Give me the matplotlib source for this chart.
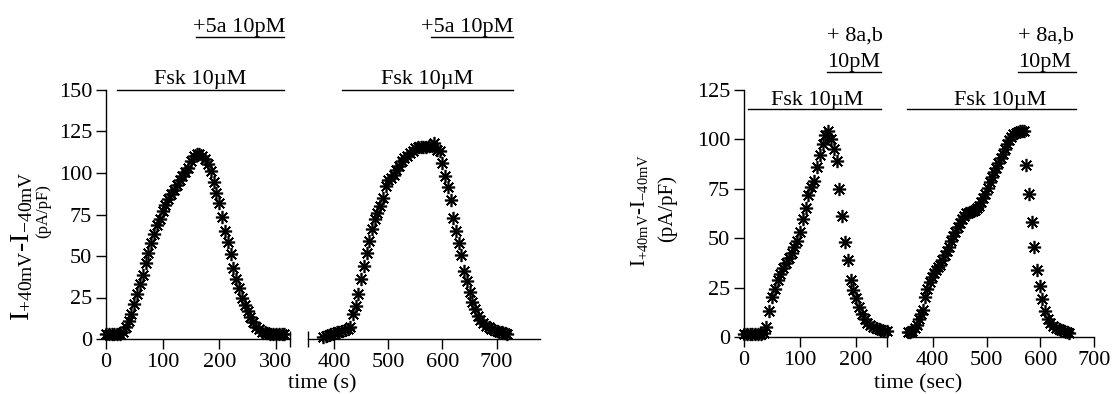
import matplotlib
matplotlib.use("Agg")
import matplotlib.pyplot as plt

plt.rcParams['font.family'] = ['Liberation Serif', 'DejaVu Serif']
plt.rcParams['mathtext.fontset'] = 'custom'
plt.rcParams['mathtext.rm'] = 'Liberation Serif'
plt.rcParams['mathtext.it'] = 'Liberation Serif:italic'

# ---- data ----
# left panel, first recording (5a)
t1 = [0, 5, 10, 15, 20, 25, 30, 35, 40, 45, 50, 55, 60, 65, 70, 75, 80, 85, 90, 95,
      100, 105, 110, 115, 120, 125, 130, 135, 140, 145, 150, 155, 160, 165, 170, 175,
      180, 185, 190, 195, 200, 205, 210, 215, 220, 225, 230, 235, 240, 245, 250, 255,
      260, 265, 270, 275, 280, 285, 290, 295, 300, 305, 310, 315]
v1 = [3, 3, 3, 3, 3, 3, 4, 7, 11, 15, 21, 27, 33, 38.5, 45.5, 52, 58, 63, 68.5, 72.5,
      77, 81, 84.5, 87.5, 90, 93, 95.5, 98, 100.5, 103, 107, 110, 111.5, 111.5, 110.5, 108.5,
      105.5, 101, 94.5, 88, 82, 73.5, 65, 58.5, 51, 42.5, 36, 31, 25, 20.5, 17, 13,
      10, 7.5, 6, 4.5, 4, 3.5, 3, 3, 3, 3, 3, 3]

# left panel, second recording (5a)
t2 = [380, 385, 390, 395, 400, 405, 410, 415, 420, 425, 430, 435, 440, 445, 450, 455,
      460, 465, 470, 475, 480, 485, 490, 495, 500, 505, 510, 515, 520, 525, 530, 535,
      540, 545, 550, 555, 560, 565, 570, 575, 580, 585, 590, 595, 600, 605, 610, 615,
      620, 625, 630, 635, 640, 645, 650, 655, 660, 665, 670, 675, 680, 685, 690, 695,
      700, 705, 710, 715, 720]
v2 = [1.5, 2, 2.5, 3, 3.5, 4, 4.5, 5, 5.5, 6, 7, 15, 20, 27, 36, 44,
      52, 59, 66, 72, 76, 80, 85, 92, 95.5, 97, 99, 102, 104.5, 107, 109, 110.5,
      112, 113.5, 115, 115.5, 115.5, 115.5, 115.5, 116, 116.5, 118, 114, 113.5, 106, 98, 91.5, 84,
      73, 65, 58, 50.5, 41, 35, 28.5, 22.5, 18, 14, 11.5, 9.5, 8, 7, 6, 5.5,
      5, 4.5, 4, 3.5, 3]

# right panel, first recording (8a,b)
t3 = [0, 5, 10, 15, 20, 25, 30, 35, 40, 45, 50, 55, 60, 65, 70, 75, 80, 85, 90, 95,
      100, 105, 110, 115, 120, 125, 130, 135, 140, 145, 150, 155, 160, 165, 170, 175,
      180, 185, 190, 195, 200, 205, 210, 215, 220, 225, 230, 235, 240, 245, 250, 255]
v3 = [1.5, 1.5, 1.5, 1.5, 1.5, 1.5, 1.5, 2, 5, 13, 20, 24.5, 29, 32, 35, 37.5, 40, 42.5, 45.5, 48.5,
      53, 59.5, 65.5, 72, 76, 79, 86, 92, 97.5, 102, 104, 100, 95, 89, 75, 61,
      48, 39, 29, 24, 19.5, 15, 11.5, 9, 7, 6, 5, 4.5, 4, 3.5, 3, 3]

# right panel, second recording (8a,b)
t4 = [354, 358, 362, 366, 370, 374, 378, 382, 386, 390, 394, 398, 402, 406, 410, 414,
      418, 422, 426, 430, 434, 438, 442, 446, 450, 454, 458, 462, 466, 470, 474, 478,
      482, 486, 490, 494, 498, 502, 506, 510, 514, 518, 522, 526, 530, 534, 538, 542,
      546, 550, 554, 558, 562, 566, 570, 574, 579, 584, 589, 594, 599, 604, 609, 614,
      619, 624, 629, 634, 639, 644, 649, 653]
v4 = [2.5, 2.5, 3, 4.5, 6, 9, 11.5, 13.5, 20, 24.5, 28, 30.5, 32.5, 34, 35.5, 36.5,
      39, 41.5, 43.5, 45.5, 48.5, 51, 53, 55.5, 57.5, 59.5, 61, 62.5, 63, 63.5, 64, 64.5,
      65.5, 66.5, 68.5, 70.5, 72.5, 75.5, 78.5, 81, 83.5, 85.5, 88, 90.5, 92.5, 95, 97.5, 99.5,
      101, 102.5, 103, 103.5, 104, 104, 104.5, 87, 72.5, 58, 45.5, 34, 26, 19, 13, 9,
      7, 5.5, 4.5, 4, 3.5, 3, 2.5, 2]

left_yticks = [0, 25, 50, 75, 100, 125, 150]
right_yticks = [0, 25, 50, 75, 100, 125]

W, H = 1114, 394
fig = plt.figure(figsize=(W / 100, H / 100), dpi=100)


def px_axes(x0, x1, ytop, ybot):
    return fig.add_axes([x0 / W, (H - ybot) / H, (x1 - x0) / W, (ybot - ytop) / H])


def style(ax, left_spine):
    for s in ['top', 'right']:
        ax.spines[s].set_visible(False)
    ax.spines['left'].set_visible(left_spine)
    ax.spines['bottom'].set_linewidth(1.0)
    ax.spines['left'].set_linewidth(1.0)
    ax.tick_params(direction='out', length=7, width=1.0, labelsize=16, pad=3)
    if not left_spine:
        ax.tick_params(axis='y', left=False, labelleft=False)
    ax.patch.set_alpha(0)


mk = dict(marker=(8, 2, 0), markersize=9.5, markeredgewidth=1.2, color='black',
          linestyle='none', clip_on=False, zorder=3)
bar = dict(color='black', linewidth=1.0, clip_on=False)
fs = 16

# ---------- left panel ----------
ax1 = px_axes(106, 290, 90, 339)
ax1.set_xlim(0, 325)
ax1.set_ylim(0, 150)
ax1.set_xticks([0, 100, 200, 300])
ax1.set_yticks(left_yticks)
style(ax1, True)
ax1.plot(t1, v1, **mk)
ax1.plot([1], [0], marker='|', markersize=12, color='black', transform=ax1.transAxes, clip_on=False)

ax2 = px_axes(308, 540, 90, 339)
ax2.set_xlim(352, 780)
ax2.set_ylim(0, 150)
ax2.set_xticks([400, 500, 600, 700])
style(ax2, False)
ax2.plot(t2, v2, **mk)
ax2.plot([0], [0], marker='|', markersize=12, color='black', transform=ax2.transAxes, clip_on=False)

ax1.plot([19, 315], [150, 150], **bar)
ax1.text(167, 153.5, 'Fsk 10\u00b5M', ha='center', va='baseline', fontsize=fs)
ax1.plot([159, 315], [182, 182], **bar)
ax1.text(316, 185, '+5a 10pM', ha='right', va='baseline', fontsize=fs)

ax2.plot([415, 730], [150, 150], **bar)
ax2.text(572, 153.5, 'Fsk 10\u00b5M', ha='center', va='baseline', fontsize=fs)
ax2.plot([579, 730], [182, 182], **bar)
ax2.text(731, 185, '+5a 10pM', ha='right', va='baseline', fontsize=fs)

fig.text(322 / W, 1 - 384 / H, 'time (s)', ha='center', va='center', fontsize=fs)
fig.text(22 / W, 1 - 246 / H, r'$\mathrm{I_{+40mV}}$-$\mathrm{I_{-40mV}}$',
         rotation=90, ha='center', va='center', fontsize=20)
fig.text(43 / W, 1 - 211 / H, '(pA/pF)', rotation=90, ha='center', va='center', fontsize=12)

# ---------- right panel ----------
ax3 = px_axes(744, 887, 90, 337)
ax3.set_xlim(0, 255)
ax3.set_ylim(0, 125)
ax3.set_xticks([0, 100, 200])
ax3.set_yticks(right_yticks)
style(ax3, True)
ax3.plot(t3, v3, **mk)
ax3.plot([1], [0], marker='|', markersize=14, color='black', transform=ax3.transAxes,
         clip_on=False, markeredgewidth=1.0)

ax4 = px_axes(907, 1094, 90, 337)
ax4.set_xlim(352, 700)
ax4.set_ylim(0, 125)
ax4.set_xticks([400, 500, 600, 700])
style(ax4, False)
ax4.plot(t4, v4, **mk)

ax3.plot([7, 245], [115.2, 115.2], **bar)
ax3.text(131, 117.3, 'Fsk 10\u00b5M', ha='center', va='baseline', fontsize=fs)
ax3.plot([148, 245], [134, 134], **bar)
ax3.text(148, 136.6, '10pM', ha='left', va='baseline', fontsize=fs)
ax3.text(148, 149.8, '+ 8a,b', ha='left', va='baseline', fontsize=fs)

ax4.plot([352, 666], [115.2, 115.2], **bar)
ax4.text(525, 117.3, 'Fsk 10\u00b5M', ha='center', va='baseline', fontsize=fs)
ax4.plot([558, 666], [134, 134], **bar)
ax4.text(558, 136.6, '10pM', ha='left', va='baseline', fontsize=fs)
ax4.text(558, 149.8, '+ 8a,b', ha='left', va='baseline', fontsize=fs)

fig.text(918 / W, 1 - 384 / H, 'time (sec)', ha='center', va='center', fontsize=fs)
fig.text(640 / W, 1 - 210 / H, r'$\mathrm{I_{+40mV}}$-$\mathrm{I_{-40mV}}$',
         rotation=90, ha='center', va='center', fontsize=15)
fig.text(667 / W, 1 - 208 / H, '(pA/pF)', rotation=90, ha='center', va='center', fontsize=15)

fig.savefig('out.png', dpi=100)
